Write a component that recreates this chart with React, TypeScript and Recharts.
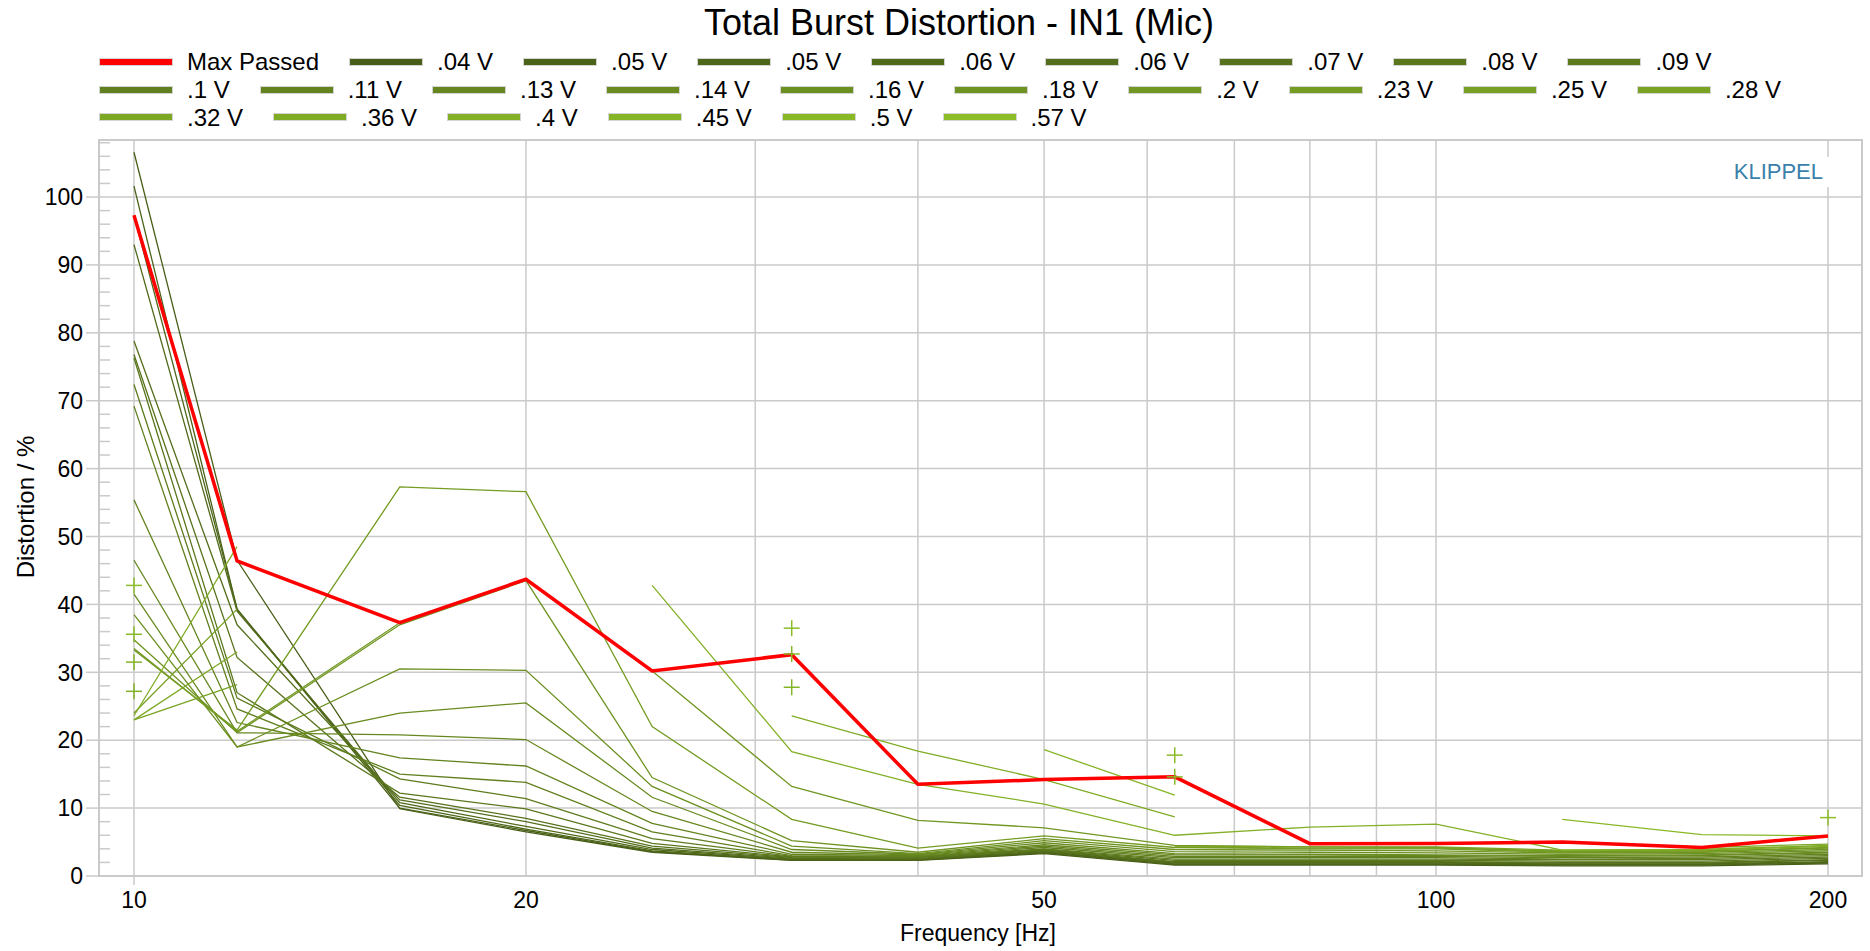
import { CartesianGrid, Line, LineChart, ReferenceArea, XAxis, YAxis } from 'recharts'

const _ = null

const freqs = [10, 12, 16, 20, 25, 32, 40, 50, 63, 80, 100, 125, 160, 200]
const xTicks = [10, 20, 30, 40, 50, 60, 70, 80, 90, 100, 200]
const xLabeled = [10, 20, 50, 100, 200]
const yMajor = [0, 10, 20, 30, 40, 50, 60, 70, 80, 90, 100]
const yTicks = [0, 2, 4, 6, 8, 10, 12, 14, 16, 18, 20, 22, 24, 26, 28, 30, 32, 34, 36, 38, 40, 42, 44, 46, 48, 50, 52, 54, 56, 58, 60, 62, 64, 66, 68, 70, 72, 74, 76, 78, 80, 82, 84, 86, 88, 90, 92, 94, 96, 98, 100, 102, 104, 106, 108]

const maxPassed = [97.3, 46.4, 37.3, 43.7, 30.2, 32.6, 13.5, 14.2, 14.6, 4.76, 4.8, 5.0, 4.2, 5.9]

const v04 = [106.6, 46.5, 9.9, 6.5, 3.5, 2.3, 2.3, 3.3, 1.6, 1.6, 1.6, 1.5, 1.5, 1.8]
const v05a = [101.6, 39.3, 10.0, 6.7, 3.6, 2.35, 2.35, 3.4, 1.7, 1.7, 1.7, 1.6, 1.6, 1.9]
const v05b = [97.3, 39.3, 10.4, 6.9, 3.7, 2.4, 2.4, 3.5, 1.8, 1.8, 1.8, 1.7, 1.7, 2.0]
const v06a = [93.0, 39.0, 10.8, 7.3, 3.9, 2.5, 2.45, 3.6, 1.9, 1.9, 1.9, 1.8, 1.8, 2.1]
const v06b = [78.8, 37.0, 11.2, 8.0, 4.1, 2.6, 2.5, 3.7, 2.0, 2.0, 2.0, 1.9, 1.9, 2.3]
const v07 = [76.8, 32.2, 11.6, 8.5, 4.4, 2.7, 2.6, 3.8, 2.1, 2.1, 2.1, 2.0, 2.0, 2.4]
const v08 = [76.3, 27.0, 12.2, 9.9, 4.8, 2.8, 2.7, 3.9, 2.3, 2.3, 2.3, 2.2, 2.2, 2.6]
const v09 = [72.4, 26.2, 14.3, 11.4, 5.5, 2.9, 2.8, 4.0, 2.5, 2.5, 2.5, 2.4, 2.4, 2.8]
const v10 = [69.2, 24.6, 15.0, 13.8, 6.5, 3.0, 2.9, 4.2, 2.7, 2.7, 2.7, 2.5, 2.6, 3.0]
const v11 = [55.4, 22.6, 17.4, 16.2, 7.75, 3.2, 3.0, 4.4, 2.9, 2.9, 2.9, 2.7, 2.8, 3.2]
const v13 = [46.5, 21.1, 20.8, 20.1, 9.5, 3.5, 3.1, 4.6, 3.1, 3.1, 3.0, 2.9, 3.0, 3.4]
const v14 = [41.5, 19.0, 24.0, 25.5, 11.6, 3.9, 3.2, 4.9, 3.3, 3.2, 3.1, 3.0, 3.1, 3.5]
const v16 = [38.5, 19.0, 30.5, 30.3, 13.2, 4.4, 3.3, 5.2, 3.6, 3.5, 3.4, 3.2, 3.3, 3.7]
const v18 = [34.8, 21.1, 37.0, 43.5, 14.5, 5.2, 3.5, 5.5, 3.9, 3.8, 3.7, 3.4, 3.5, 3.9]
const v20 = [33.5, 21.3, 37.3, 43.7, 30.2, 13.2, 8.2, 7.1, 4.5, 4.3, 4.2, 3.6, 3.7, 4.1]
const v23 = [33.3, 21.5, 57.3, 56.6, 22.0, 8.35, 4.1, 5.9, 4.2, 4.0, 4.0, 3.5, 3.6, 4.2]
const v25 = [24.0, 39.3, _, _, _, _, _, _, 4.3, 4.1, 4.1, 3.7, 3.8, 4.4]
const v28 = [23.0, 28.2, _, _, _, _, _, _, 4.4, 4.3, 4.3, 3.8, 3.9, 4.5]
const v32 = [23.0, 33.0, _, _, _, _, _, _, _, 4.76, 4.8, 5.0, 4.2, 4.7]
const v36 = [23.6, 48.5, _, _, _, 23.6, 18.4, 14.2, 8.7, _, _, _, _, _]
const v40 = [27.2, _, _, _, 42.8, 18.3, 13.5, 10.6, 6.0, 7.2, 7.65, 3.8, 3.9, 4.4]
const v45 = [31.5, _, _, _, _, 27.8, _, 18.6, 11.9, _, _, _, _, _]
const v50 = [35.6, _, _, _, _, 32.7, _, _, 14.6, _, _, 8.35, 6.1, 5.9]
const v57 = [42.8, _, _, _, _, 36.5, _, _, 17.8, _, _, _, _, 8.6]

const voltLabels = ['.04 V', '.05 V', '.05 V', '.06 V', '.06 V', '.07 V', '.08 V', '.09 V', '.1 V', '.11 V', '.13 V', '.14 V', '.16 V', '.18 V', '.2 V', '.23 V', '.25 V', '.28 V', '.32 V', '.36 V', '.4 V', '.45 V', '.5 V', '.57 V']
const voltSeries = [v04, v05a, v05b, v06a, v06b, v07, v08, v09, v10, v11, v13, v14, v16, v18, v20, v23, v25, v28, v32, v36, v40, v45, v50, v57]

const GRID = '#cacaca'
const FONT = '"Liberation Sans", Arial, sans-serif'
const Y_TICK = 13
const Y_GAP = 3
const X_TICK = 9
const X_GAP = 7

const shade = (i: number) => {
  const t = i / (voltSeries.length - 1)
  const a = [72, 94, 24], b = [140, 188, 40]
  return `rgb(${a.map((c, k) => Math.round(c + (b[k] - c) * t)).join(',')})`
}

const data = freqs.map((f, i) => {
  const row: Record<string, number | null> = { f, max: maxPassed[i] }
  voltSeries.forEach((s, k) => { row['v' + k] = s[i] })
  return row
})

// lone points (no neighbours) are drawn as "+" like the analyzer does
const plusDot = (vals: (number | null)[], color: string) => (p: any) => {
  const i = p.index
  const lone = vals[i] != null && vals[i - 1] == null && vals[i + 1] == null
  if (!lone || p.cx == null || p.cy == null) return <g key={'d' + i} />
  return <g key={'d' + i}>
    <line x1={p.cx - 8} x2={p.cx + 8} y1={p.cy} y2={p.cy} stroke={color} strokeWidth={1.5} />
    <line x1={p.cx} x2={p.cx} y1={p.cy - 8} y2={p.cy + 8} stroke={color} strokeWidth={1.5} />
  </g>
}

function YTick(props: any) {
  const { x, y, payload } = props
  const ax = x + Y_TICK + Y_GAP
  const v = payload.value
  if (v % 10 === 0 && v <= 100) return <g>
    <line x1={ax - Y_TICK} x2={ax} y1={y} y2={y} stroke={GRID} strokeWidth={1.5} />
    <text x={x} y={y} dy="0.36em" textAnchor="end" fontSize={23} fontFamily={FONT} fill="#000">{v}</text>
  </g>
  return <line x1={ax} x2={ax + 11} y1={y} y2={y} stroke={GRID} strokeWidth={1.5} />
}

function XTick(props: any) {
  const { x, y, payload } = props
  const v = payload.value
  const ay = y - X_TICK - X_GAP
  if (!xLabeled.includes(v)) return <g />
  return <g>
    {v === 10 && <line x1={x} x2={x} y1={ay} y2={ay + X_TICK} stroke={GRID} strokeWidth={1.5} />}
    <text x={x} y={y} dy="0.71em" textAnchor="middle" fontSize={23} fontFamily={FONT} fill="#000">{v}</text>
  </g>
}

const legendItems = [{ name: 'Max Passed', color: '#ff0000' }, ...voltLabels.map((name, i) => ({ name, color: shade(i) }))]

export default function App() {
  return <div style={{ position: 'absolute', left: 0, top: 0, width: 1870, height: 951, background: '#fff', fontFamily: FONT }}>
    <div style={{ position: 'absolute', top: 5, left: 0, width: 1918, textAlign: 'center', fontSize: 36, lineHeight: '36px' }}>Total Burst Distortion - IN1 (Mic)</div>
    <div style={{ position: 'absolute', top: 48, left: 99, width: 1770, display: 'flex', flexWrap: 'wrap' }}>
      {legendItems.map((it, i) => <div key={i} style={{ display: 'flex', alignItems: 'center', height: 27.75, marginRight: 30 }}>
        <span style={{ width: 72, height: 6, background: it.color, border: '1px solid #d4d4d4', marginRight: 14 }} />
        <span style={{ fontSize: 24, lineHeight: '27.75px', whiteSpace: 'pre' }}>{it.name}</span>
      </div>)}
    </div>
    <LineChart width={1870} height={951} data={data} margin={{ top: 140, right: 8, bottom: 0, left: 0 }}>
      <CartesianGrid stroke={GRID} strokeWidth={1.5} horizontalValues={yMajor} />
      <XAxis dataKey="f" type="number" scale="log" domain={[9.4, 212.4]} allowDataOverflow ticks={xTicks} interval={0}
        tick={<XTick />} tickLine={false} tickSize={X_TICK} tickMargin={X_GAP} height={75} axisLine={{ stroke: GRID, strokeWidth: 1.5 }} />
      <YAxis type="number" domain={[0, 108.4]} allowDataOverflow ticks={yTicks} interval={0} width={99}
        tick={<YTick />} tickLine={false} tickSize={Y_TICK} tickMargin={Y_GAP} axisLine={{ stroke: GRID, strokeWidth: 1.5 }} />
      <ReferenceArea x1={9.4} x2={212.4} y1={0} y2={108.4} fill="none" stroke={GRID} strokeWidth={2} ifOverflow="visible" />
      {voltSeries.map((s, k) => <Line key={k} dataKey={'v' + k} stroke={shade(k)} strokeWidth={1.3} dot={plusDot(s, shade(k))}
        activeDot={false} connectNulls={false} isAnimationActive={false} />)}
      <Line dataKey="max" stroke="#ff0000" strokeWidth={3.5} dot={false} activeDot={false} isAnimationActive={false} />
    </LineChart>
    <div style={{ position: 'absolute', top: 157, right: 39, padding: '3px 8px', background: '#fff', color: '#3b7fab', fontSize: 22, lineHeight: '24px' }}>KLIPPEL</div>
    <div style={{ position: 'absolute', left: 978, top: 933, transform: 'translate(-50%, -50%)', fontSize: 23, whiteSpace: 'pre' }}>Frequency [Hz]</div>
    <div style={{ position: 'absolute', left: 26, top: 507, transform: 'translate(-50%, -50%) rotate(-90deg)', fontSize: 24, whiteSpace: 'pre' }}>Distortion / %</div>
  </div>
}
